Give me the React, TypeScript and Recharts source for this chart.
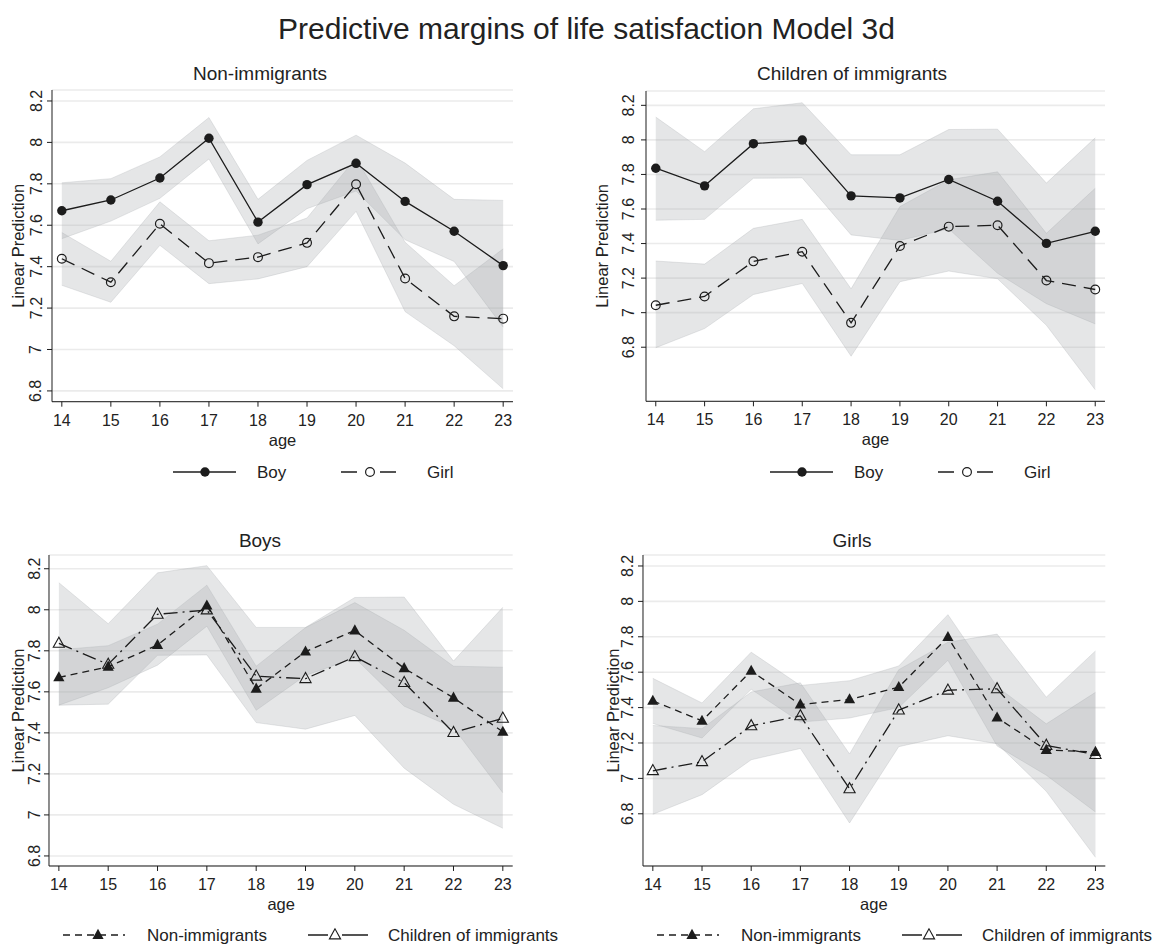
import React from 'react';
import { ComposedChart, Area, Line, XAxis, YAxis, CartesianGrid } from 'recharts';

const AGES = [14, 15, 16, 17, 18, 19, 20, 21, 22, 23];
const Y_TICKS = [6.8, 7, 7.2, 7.4, 7.6, 7.8, 8, 8.2];

// non-immigrants, boys
const NI_BOY = [7.67, 7.722, 7.828, 8.02, 7.615, 7.796, 7.899, 7.715, 7.571, 7.405];
const NI_BOY_LO = [7.535, 7.62, 7.73, 7.92, 7.51, 7.68, 7.765, 7.53, 7.425, 7.108];
const NI_BOY_HI = [7.805, 7.825, 7.93, 8.12, 7.725, 7.913, 8.035, 7.9, 7.725, 7.72];
// non-immigrants, girls
const NI_GIRL = [7.438, 7.325, 7.607, 7.417, 7.446, 7.515, 7.798, 7.343, 7.16, 7.149];
const NI_GIRL_LO = [7.31, 7.228, 7.503, 7.318, 7.341, 7.4, 7.667, 7.183, 7.018, 6.81];
const NI_GIRL_HI = [7.565, 7.426, 7.713, 7.525, 7.552, 7.635, 7.925, 7.518, 7.308, 7.486];
// children of immigrants, boys
const CI_BOY = [7.836, 7.734, 7.978, 7.999, 7.676, 7.664, 7.771, 7.645, 7.401, 7.471];
const CI_BOY_LO = [7.535, 7.54, 7.778, 7.78, 7.45, 7.418, 7.485, 7.228, 7.052, 6.935];
const CI_BOY_HI = [8.132, 7.932, 8.18, 8.215, 7.914, 7.914, 8.06, 8.062, 7.75, 8.012];
// children of immigrants, girls
const CI_GIRL = [7.043, 7.094, 7.297, 7.353, 6.941, 7.386, 7.498, 7.506, 7.186, 7.134];
const CI_GIRL_LO = [6.797, 6.908, 7.105, 7.169, 6.748, 7.179, 7.241, 7.196, 6.927, 6.554];
const CI_GIRL_HI = [7.299, 7.281, 7.488, 7.54, 7.138, 7.614, 7.769, 7.815, 7.459, 7.72];

const ROWS = AGES.map((age, i) => ({
    age,
    niBoy: NI_BOY[i], niBoyCi: [NI_BOY_LO[i], NI_BOY_HI[i]],
    niGirl: NI_GIRL[i], niGirlCi: [NI_GIRL_LO[i], NI_GIRL_HI[i]],
    ciBoy: CI_BOY[i], ciBoyCi: [CI_BOY_LO[i], CI_BOY_HI[i]],
    ciGirl: CI_GIRL[i], ciGirlCi: [CI_GIRL_LO[i], CI_GIRL_HI[i]],
}));

const INK = '#1c1c1c';
const TEXT = '#222';
const BAND = '#a9abae';
const FONT = '"Liberation Sans", Arial, Helvetica, sans-serif';

const DASH_GIRL = '14 8';
const DASH_NI = '7 5';
const DASH_CI = '14 5 2 5';

type Marker = 'dot' | 'circle' | 'tri' | 'otri';

function MarkerShape({ kind, cx, cy }: { kind: Marker; cx: number; cy: number }) {
    if (cx == null || cy == null) return null;
    if (kind === 'dot') return <circle cx={cx} cy={cy} r={4.7} fill={INK} />;
    if (kind === 'circle') return <circle cx={cx} cy={cy} r={4.4} fill="none" stroke={INK} strokeWidth={1.2} />;
    const pts = `${cx},${cy - 6.2} ${cx - 5.6},${cy + 3.9} ${cx + 5.6},${cy + 3.9}`;
    if (kind === 'tri') return <polygon points={pts} fill={INK} />;
    return <polygon points={pts} fill="none" stroke={INK} strokeWidth={1.1} />;
}

interface Series { key: string; band: string; dash?: string; marker: Marker; }
interface Plot { l: number; r: number; t: number; b: number; }

interface PanelSpec {
    title: string;
    plot: Plot;
    domain: [number, number];
    tickX: number;
    labelX: number;
    titleX: number;
    series: Series[];
}

const PANELS: PanelSpec[] = [
    {
        title: 'Non-immigrants', plot: { l: 52, r: 513, t: 90, b: 401.7 }, domain: [6.748, 8.253],
        tickX: 36, labelX: 18.3, titleX: 260,
        series: [
            { key: 'niBoy', band: 'niBoyCi', marker: 'dot' },
            { key: 'niGirl', band: 'niGirlCi', dash: DASH_GIRL, marker: 'circle' },
        ],
    },
    {
        title: 'Children of immigrants', plot: { l: 646, r: 1105, t: 90.7, b: 401 }, domain: [6.487, 8.283],
        tickX: 628.3, labelX: 602.5, titleX: 852,
        series: [
            { key: 'ciBoy', band: 'ciBoyCi', marker: 'dot' },
            { key: 'ciGirl', band: 'ciGirlCi', dash: DASH_GIRL, marker: 'circle' },
        ],
    },
    {
        title: 'Boys', plot: { l: 49.3, r: 513, t: 555, b: 866 }, domain: [6.751, 8.267],
        tickX: 35, labelX: 18.3, titleX: 260,
        series: [
            { key: 'niBoy', band: 'niBoyCi', dash: DASH_NI, marker: 'tri' },
            { key: 'ciBoy', band: 'ciBoyCi', dash: DASH_CI, marker: 'otri' },
        ],
    },
    {
        title: 'Girls', plot: { l: 642.7, r: 1105, t: 555, b: 866 }, domain: [6.505, 8.262],
        tickX: 627.5, labelX: 612.5, titleX: 852,
        series: [
            { key: 'niGirl', band: 'niGirlCi', dash: DASH_NI, marker: 'tri' },
            { key: 'ciGirl', band: 'ciGirlCi', dash: DASH_CI, marker: 'otri' },
        ],
    },
];

const Y_W = 60;
const X_H = 44;
const M_TOP = 10;
const M_RIGHT = 10;
const TICK_FS = 16;

function Panel({ spec }: { spec: PanelSpec }) {
    const { plot, domain, series, tickX } = spec;
    const left = plot.l - Y_W;
    const top = plot.t - M_TOP;
    const width = plot.r - plot.l + Y_W + M_RIGHT;
    const height = plot.b - plot.t + M_TOP + X_H;

    const yTick = (p: any) => {
        const cx = tickX - left;
        return (
            <text x={cx} y={p.y} transform={`rotate(-90, ${cx}, ${p.y})`} textAnchor="middle"
                dominantBaseline="central" fontSize={TICK_FS} fill={TEXT}>
                {p.payload.value}
            </text>
        );
    };
    const xTick = (p: any) => (
        <text x={p.x} y={plot.b - top + 24} textAnchor="middle" fontSize={TICK_FS} fill={TEXT}>
            {p.payload.value}
        </text>
    );

    return (
        <div style={{ position: 'absolute', left, top }}>
            <ComposedChart width={width} height={height} data={ROWS}
                margin={{ top: M_TOP, right: M_RIGHT, bottom: 0, left: 0 }}>
                <CartesianGrid vertical={false} stroke="#ebebeb" strokeWidth={1.6} />
                <XAxis dataKey="age" type="number" domain={[13.8, 23.2]} ticks={AGES} interval={0}
                    allowDataOverflow height={X_H} tickSize={5} stroke={INK} tick={xTick} />
                <YAxis type="number" domain={domain} ticks={Y_TICKS} interval={0} allowDataOverflow
                    width={Y_W} tickSize={5} stroke={INK} tick={yTick} />
                {series.map((s) => (
                    <Area key={s.band} dataKey={s.band} type="linear" fill={BAND} fillOpacity={0.3}
                        stroke={BAND} strokeOpacity={0.35} strokeWidth={0.8} isAnimationActive={false} />
                ))}
                {series.map((s) => (
                    <Line key={s.key} dataKey={s.key} type="linear" stroke={INK} strokeWidth={1.3}
                        strokeDasharray={s.dash} isAnimationActive={false} activeDot={false}
                        dot={(p: any) => <MarkerShape key={`${s.key}-${p.index}`} kind={s.marker} cx={p.cx} cy={p.cy} />} />
                ))}
            </ComposedChart>
        </div>
    );
}

interface LegendItem { label: string; x0: number; x1: number; mx: number; tx: number; dash?: string; marker: Marker; }

// legend key samples: Stata draws a short piece of the line pattern around the marker
const LEGENDS: { y: number; items: LegendItem[] }[] = [
    {
        y: 472, items: [
            { label: 'Boy', x0: 173, x1: 236, mx: 205, tx: 257, marker: 'dot' },
            { label: 'Girl', x0: 341, x1: 396, mx: 370, tx: 427, dash: '16 23 16', marker: 'circle' },
        ],
    },
    {
        y: 472, items: [
            { label: 'Boy', x0: 770, x1: 833, mx: 802, tx: 854, marker: 'dot' },
            { label: 'Girl', x0: 938, x1: 993, mx: 967, tx: 1024, dash: '16 23 16', marker: 'circle' },
        ],
    },
    {
        y: 935, items: [
            { label: 'Non-immigrants', x0: 63, x1: 125, mx: 98, tx: 147, dash: DASH_NI, marker: 'tri' },
            { label: 'Children of immigrants', x0: 308, x1: 368, mx: 335, tx: 388, dash: '20 14 30', marker: 'otri' },
        ],
    },
    {
        y: 935, items: [
            { label: 'Non-immigrants', x0: 657, x1: 719, mx: 692, tx: 741, dash: DASH_NI, marker: 'tri' },
            { label: 'Children of immigrants', x0: 902, x1: 962, mx: 929, tx: 982, dash: '20 14 30', marker: 'otri' },
        ],
    },
];

function Overlay() {
    return (
        <svg width={1169} height={948} style={{ position: 'absolute', left: 0, top: 0, pointerEvents: 'none' }}
            fontFamily={FONT}>
            <text x={586.5} y={39} textAnchor="middle" fontSize={30} fill={TEXT}>
                Predictive margins of life satisfaction Model 3d
            </text>
            {PANELS.map((p) => {
                const top = p.plot.t < 300;
                const midY = (p.plot.t + p.plot.b) / 2;
                return (
                    <g key={p.title}>
                        <text x={p.titleX} y={top ? 80 : 546.7} textAnchor="middle" fontSize={19} fill={TEXT}>{p.title}</text>
                        <text x={p.labelX} y={midY} transform={`rotate(-90, ${p.labelX}, ${midY})`} textAnchor="middle"
                            dominantBaseline="central" fontSize={16.5} fill={TEXT}>Linear Prediction</text>
                        <text x={(p.plot.l + p.plot.r) / 2} y={p.plot.b + 44} textAnchor="middle" fontSize={16.5} fill={TEXT}>age</text>
                    </g>
                );
            })}
            {LEGENDS.map((lg, i) => (
                <g key={i}>
                    {lg.items.map((it) => (
                        <g key={it.label}>
                            <line x1={it.x0} x2={it.x1} y1={lg.y} y2={lg.y} stroke={INK} strokeWidth={1.4} strokeDasharray={it.dash} />
                            <MarkerShape kind={it.marker} cx={it.mx} cy={lg.y} />
                            <text x={it.tx} y={lg.y} dominantBaseline="central" fontSize={17} fill={TEXT}>{it.label}</text>
                        </g>
                    ))}
                </g>
            ))}
        </svg>
    );
}

export default function App() {
    return (
        <div style={{ position: 'absolute', left: 0, top: 0, width: 1169, height: 948, background: '#fff', fontFamily: FONT }}>
            {PANELS.map((p) => <Panel key={p.title} spec={p} />)}
            <Overlay />
        </div>
    );
}
